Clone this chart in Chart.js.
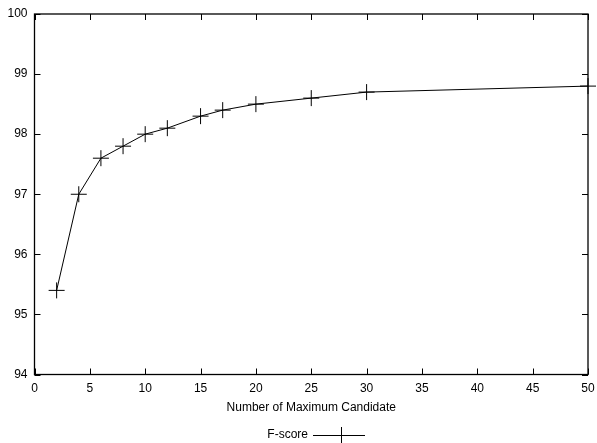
<!DOCTYPE html>
<html>
<head>
<meta charset="utf-8">
<script src="https://cdn.jsdelivr.net/npm/chart.js@4/dist/chart.umd.min.js"></script>
<style>
  html, body { margin: 0; padding: 0; background: #fff; }
  #wrap { width: 597px; height: 443px; }
</style>
</head>
<body>
<div id="wrap"><canvas id="c" width="597" height="443"></canvas></div>
<script>
// Maximum candidate counts and the resulting F-score
const candidates = [2, 4, 6, 8, 10, 12, 15, 17, 20, 25, 30, 50];
const fScore = [95.4, 97.0, 97.6, 97.8, 98.0, 98.1, 98.3, 98.4, 98.5, 98.6, 98.7, 98.8];
const xTicks = [0, 5, 10, 15, 20, 25, 30, 35, 40, 45, 50];
const yTicks = [94, 95, 96, 97, 98, 99, 100];
const seriesName = 'F-score';
const xTitle = 'Number of Maximum Candidate';

const FONT = 'Liberation Sans, Helvetica, Arial, sans-serif';

// Frame around the plot with inward tick marks on all four sides
const framePlugin = {
  id: 'frame',
  beforeDatasetsDraw(chart) {
    const { ctx, chartArea: a, scales: { x, y } } = chart;
    const len = 6;
    ctx.save();
    ctx.strokeStyle = '#000';
    ctx.lineWidth = 1;
    ctx.beginPath();
    xTicks.forEach(v => {
      const px = Math.round(x.getPixelForValue(v)) + 0.5;
      ctx.moveTo(px, a.bottom); ctx.lineTo(px, a.bottom - len);
      ctx.moveTo(px, a.top); ctx.lineTo(px, a.top + len);
    });
    yTicks.forEach(v => {
      const py = Math.round(y.getPixelForValue(v)) + 0.5;
      ctx.moveTo(a.left, py); ctx.lineTo(a.left + len, py);
      ctx.moveTo(a.right, py); ctx.lineTo(a.right - len, py);
    });
    ctx.stroke();
    ctx.lineWidth = 1.3;
    ctx.strokeRect(a.left, a.top, a.right - a.left, a.bottom - a.top);
    ctx.restore();
  }
};

// Legend below the axis title: label text, then line sample with a cross
const legendPlugin = {
  id: 'bottomLegend',
  afterDraw(chart) {
    const { ctx } = chart;
    const cy = 435;
    ctx.save();
    ctx.font = '12px ' + FONT;
    ctx.fillStyle = '#000';
    ctx.textAlign = 'right';
    ctx.textBaseline = 'middle';
    ctx.fillText(seriesName, 308, cy);
    ctx.strokeStyle = '#000';
    ctx.lineWidth = 1;
    ctx.beginPath();
    ctx.moveTo(313, cy + 0.5); ctx.lineTo(365, cy + 0.5);
    ctx.moveTo(341.5, cy - 8); ctx.lineTo(341.5, cy + 9);
    ctx.stroke();
    ctx.restore();
  }
};

new Chart(document.getElementById('c'), {
  type: 'line',
  data: {
    datasets: [{
      label: seriesName,
      data: candidates.map((c, i) => ({ x: c, y: fScore[i] })),
      borderColor: '#000',
      backgroundColor: '#000',
      borderWidth: 1,
      pointStyle: 'cross',
      pointRadius: 8,
      pointHoverRadius: 8,
      pointBorderWidth: 1,
      pointBorderColor: '#000',
      tension: 0,
      clip: false
    }]
  },
  options: {
    responsive: false,
    animation: false,
    devicePixelRatio: 1,
    layout: { padding: { top: 14, left: 0, right: 8, bottom: 28.5 } },
    plugins: { legend: { display: false }, tooltip: { enabled: false } },
    scales: {
      x: {
        type: 'linear',
        min: 0, max: 50,
        afterBuildTicks: s => { s.ticks = xTicks.map(v => ({ value: v })); },
        afterFit: s => { s.height = 40; s.paddingLeft = 0; s.paddingRight = 0; },
        grid: { display: false, drawTicks: false },
        border: { display: false },
        ticks: { color: '#000', padding: 7, font: { family: FONT, size: 12 }, maxRotation: 0 },
        title: { display: true, text: xTitle, color: '#000', padding: 0, font: { family: FONT, size: 12 } }
      },
      y: {
        type: 'linear',
        min: 94, max: 100,
        afterBuildTicks: s => { s.ticks = yTicks.map(v => ({ value: v })); },
        afterFit: s => { s.width = 34.5; s.paddingTop = 0; s.paddingBottom = 0; },
        grid: { display: false, drawTicks: false },
        border: { display: false },
        ticks: { color: '#000', padding: 7, font: { family: FONT, size: 12 } }
      }
    }
  },
  plugins: [framePlugin, legendPlugin]
});
</script>
</body>
</html>
